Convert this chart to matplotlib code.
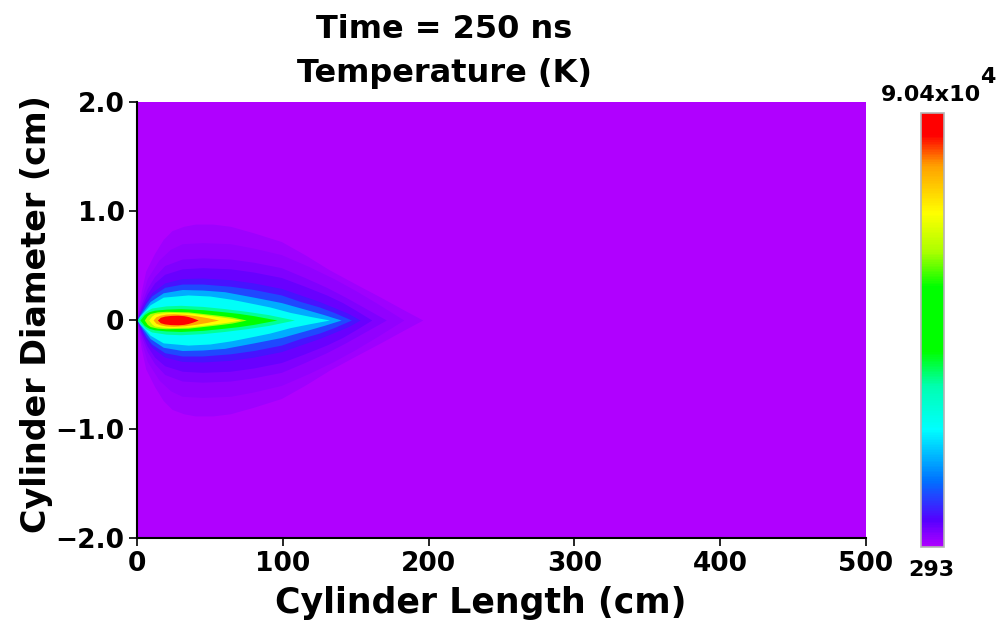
#!/usr/bin/env python3
"""Temperature field in the cylinder at t = 250 ns, drawn as nested filled contour bands."""

import matplotlib
matplotlib.use("Agg")
import matplotlib.pyplot as plt
from matplotlib.colors import LinearSegmentedColormap, Normalize
from matplotlib.cm import ScalarMappable

# ---------------------------------------------------------------------------
# Data
# ---------------------------------------------------------------------------

T_MIN = 293.0
T_MAX = 90400.0

x_ticks = [0, 100, 200, 300, 400, 500]
y_ticks = [2.0, 1.0, 0.0, -1.0, -2.0]
y_tick_labels = ["2.0", "1.0", "0", "\u22121.0", "\u22122.0"]

# temperature of each contour band (K), outermost first
levels_K = [1350, 2300, 3450, 4800, 7100, 11100, 18300,
            25500, 34500, 45300, 61600, 69700, 78700, 86800]

# outline of each band: length along cylinder (cm) and half diameter (cm)
band01_len = [0, 1.5, 3, 6, 12, 18, 24, 32, 40, 52, 64, 80, 99, 115, 132, 150, 167, 182, 196]
band01_half = [0, 0.15, 0.27, 0.45, 0.61, 0.74, 0.82, 0.86, 0.88, 0.88, 0.86, 0.80, 0.72,
               0.60, 0.46, 0.33, 0.21, 0.10, 0]
band02_len = [0, 1.5, 3, 7, 15, 23, 31, 45, 64, 80, 99, 118, 135, 150, 165, 183]
band02_half = [0, 0.11, 0.20, 0.38, 0.55, 0.65, 0.70, 0.71, 0.70, 0.66, 0.60, 0.49, 0.38,
               0.27, 0.15, 0]
band03_len = [0, 1.5, 3, 7, 12, 19, 31, 45, 64, 80, 99, 115, 130, 143, 155, 171]
band03_half = [0, 0.08, 0.15, 0.29, 0.40, 0.50, 0.56, 0.57, 0.56, 0.53, 0.48, 0.39, 0.30,
               0.21, 0.12, 0]
band04_len = [0, 1.5, 3, 7, 12, 19, 31, 45, 64, 80, 99, 115, 130, 141, 150, 161]
band04_half = [0, 0.06, 0.12, 0.24, 0.34, 0.42, 0.47, 0.48, 0.47, 0.44, 0.39, 0.31, 0.23,
               0.16, 0.09, 0]
band05_len = [0, 1.5, 3, 6, 10, 19, 31, 45, 64, 80, 99, 112, 125, 136, 145, 153]
band05_half = [0, 0.05, 0.09, 0.17, 0.25, 0.34, 0.38, 0.385, 0.37, 0.34, 0.29, 0.23, 0.17,
               0.11, 0.06, 0]
band06_len = [0, 1.5, 3, 6, 10, 19, 31, 45, 64, 80, 99, 112, 125, 135, 147]
band06_half = [0, 0.04, 0.08, 0.15, 0.22, 0.30, 0.33, 0.33, 0.31, 0.28, 0.23, 0.17, 0.12,
               0.07, 0]
band07_len = [0, 1.5, 4, 9, 18, 31, 45, 60, 80, 99, 115, 128, 140]
band07_half = [0, 0.035, 0.08, 0.17, 0.25, 0.28, 0.275, 0.26, 0.21, 0.16, 0.10, 0.05, 0]
band08_len = [0, 2, 5, 9, 18, 35, 50, 65, 80, 91, 105, 118, 132]
band08_half = [0, 0.035, 0.08, 0.14, 0.21, 0.23, 0.22, 0.19, 0.15, 0.12, 0.07, 0.035, 0]
band09_len = [0, 3, 6, 10, 20, 30, 45, 60, 75, 90, 108]
band09_half = [0, 0.04, 0.08, 0.11, 0.13, 0.135, 0.125, 0.105, 0.08, 0.05, 0]
band10_len = [2, 5, 8, 12, 20, 30, 45, 60, 70, 80, 96]
band10_half = [0, 0.05, 0.075, 0.09, 0.1, 0.105, 0.095, 0.075, 0.06, 0.04, 0]
band11_len = [5, 7, 9, 14, 20, 35, 45, 55, 65, 75]
band11_half = [0, 0.04, 0.06, 0.075, 0.08, 0.075, 0.06, 0.045, 0.028, 0]
band12_len = [8, 10, 12, 17, 22, 35, 45, 55, 63, 71]
band12_half = [0, 0.035, 0.055, 0.065, 0.07, 0.065, 0.05, 0.033, 0.018, 0]
band13_len = [11, 13, 16, 20, 25, 33, 40, 48, 56]
band13_half = [0, 0.03, 0.045, 0.055, 0.058, 0.052, 0.04, 0.022, 0]
band14_len = [14, 16, 19, 23, 28, 32, 35, 38, 42]
band14_half = [0, 0.025, 0.036, 0.042, 0.044, 0.04, 0.032, 0.02, 0]

bands = [
    (band01_len, band01_half), (band02_len, band02_half),
    (band03_len, band03_half), (band04_len, band04_half),
    (band05_len, band05_half), (band06_len, band06_half),
    (band07_len, band07_half), (band08_len, band08_half),
    (band09_len, band09_half), (band10_len, band10_half),
    (band11_len, band11_half), (band12_len, band12_half),
    (band13_len, band13_half), (band14_len, band14_half),
]

# ---------------------------------------------------------------------------
# Colour scale (IDL-like rainbow, purple -> red)
# ---------------------------------------------------------------------------

cmap = LinearSegmentedColormap.from_list("rainbow_idl", [
    (0.00, "#b000ff"),
    (0.06, "#5500ff"),
    (0.15, "#0070ff"),
    (0.27, "#00ffff"),
    (0.37, "#00ffb0"),
    (0.45, "#00ff00"),
    (0.60, "#00ff00"),
    (0.68, "#aaff00"),
    (0.77, "#ffff00"),
    (0.88, "#ffa000"),
    (0.95, "#ff0000"),
    (1.00, "#ff0000"),
])
norm = Normalize(T_MIN, T_MAX)

# ---------------------------------------------------------------------------
# Plot
# ---------------------------------------------------------------------------

plt.rcParams["font.family"] = "DejaVu Sans"
plt.rcParams["font.weight"] = "bold"

fig = plt.figure(figsize=(10.03, 6.24), dpi=100)
ax = fig.add_axes([0.1366, 0.1378, 0.7268, 0.6987])
ax.set_facecolor(cmap(norm(T_MIN)))

for level, (length, half) in zip(levels_K, bands):
    lower = [-h for h in half]
    ax.fill_between(length, lower, half, color=cmap(norm(level)), lw=0)

ax.set_xlim(0, 500)
ax.set_ylim(-2.0, 2.0)
ax.set_xticks(x_ticks)
ax.set_xticklabels([str(t) for t in x_ticks])
ax.set_yticks(y_ticks)
ax.set_yticklabels(y_tick_labels)
ax.tick_params(direction="out", length=6, width=1.2, labelsize=19, pad=3)
for side in ("top", "right"):
    ax.spines[side].set_visible(False)
for side in ("left", "bottom"):
    ax.spines[side].set_linewidth(1.5)

fig.text(0.479, 0.033, "Cylinder Length (cm)", ha="center", va="center",
         fontsize=25, fontweight="bold")
fig.text(0.036, 0.497, "Cylinder Diameter (cm)", ha="center", va="center",
         rotation=90, fontsize=24, fontweight="bold")

fig.text(0.443, 0.952, "Time = 250 ns", ha="center", va="center",
         fontsize=23, fontweight="bold")
fig.text(0.443, 0.882, "Temperature (K)", ha="center", va="center",
         fontsize=23, fontweight="bold")

# colour bar
cax = fig.add_axes([0.9183, 0.1234, 0.0229, 0.6955])
cb = fig.colorbar(ScalarMappable(norm=norm, cmap=cmap), cax=cax, ticks=[])
cb.outline.set_edgecolor("#b4b4b4")
cb.outline.set_linewidth(1.2)

fig.text(0.928, 0.847, "9.04x10", ha="center", va="center",
         fontsize=16, fontweight="bold")
fig.text(0.985, 0.876, "4", ha="center", va="center",
         fontsize=16, fontweight="bold")
fig.text(0.929, 0.087, "293", ha="center", va="center",
         fontsize=16, fontweight="bold")

fig.savefig("out.png", dpi=100)
